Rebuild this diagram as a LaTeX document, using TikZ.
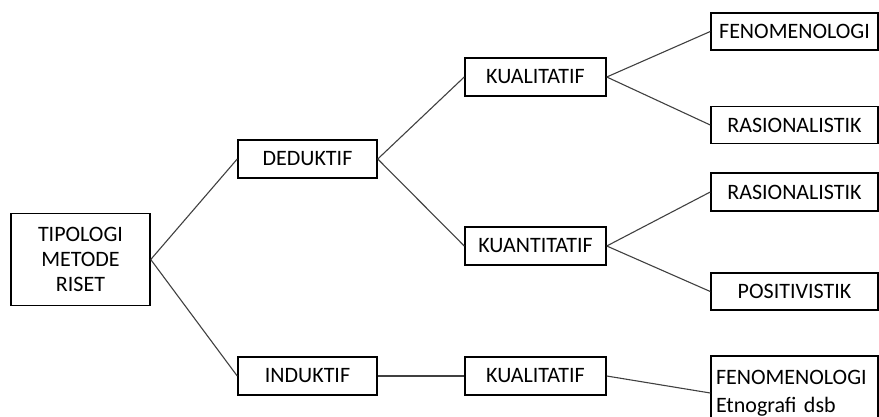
\documentclass[tikz,border=0pt]{standalone}
\usepackage{fontspec}
\setmainfont{Carlito}
\begin{document}
\begin{tikzpicture}[x=1pt,y=-1pt,
  box/.style={draw=black, line width=1.5pt, rectangle, inner sep=0pt,
    minimum height=38pt, font=\fontsize{22}{25}\selectfont, align=center},
  link/.style={draw=black!75, line width=1.1pt}]
  \useasboundingbox (0,0) rectangle (879,417);
  \clip (0,0) rectangle (879,417);

  % level 0
  \node[box, minimum width=139pt, minimum height=92pt] (tip) at (80.5,259.5)
    {TIPOLOGI\\METODE\\RISET};

  % level 1
  \node[box, minimum width=139pt] (ded) at (307.5,159) {DEDUKTIF};
  \node[box, minimum width=139pt] (ind) at (307.5,376) {INDUKTIF};

  % level 2
  \node[box, minimum width=141pt] (kual1) at (535.5,77) {KUALITATIF};
  \node[box, minimum width=141pt] (kuan) at (535.5,246) {KUANTITATIF};
  \node[box, minimum width=141pt] (kual2) at (535.5,376) {KUALITATIF};

  % level 3
  \node[box, minimum width=167pt, minimum height=37pt] (fen1) at (794.5,31.5) {FENOMENOLOGI};
  \node[box, minimum width=167pt, minimum height=37pt] (ras1) at (794.5,125) {RASIONALISTIK};
  \node[box, minimum width=167pt] (ras2) at (794.5,192) {RASIONALISTIK};
  \node[box, minimum width=167pt, minimum height=37pt] (pos) at (794.5,291.5) {POSITIVISTIK};
  \node[box, minimum width=167pt, minimum height=74pt, text width=157pt,
    align=left, inner xsep=5pt, font=\fontsize{22}{28}\selectfont]
    (fen2) at (794.5,393) {FENOMENOLOGI\\Etnografi dsb};

  % connectors
  \draw[link] (tip.east) -- (ded.west);
  \draw[link] (tip.east) -- (ind.west);
  \draw[link] (ded.east) -- (kual1.west);
  \draw[link] (ded.east) -- (kuan.west);
  \draw[link] (ind.east) -- (kual2.west);
  \draw[link] (kual1.east) -- (fen1.west);
  \draw[link] (kual1.east) -- (ras1.west);
  \draw[link] (kuan.east) -- (ras2.west);
  \draw[link] (kuan.east) -- (pos.west);
  \draw[link] (kual2.east) -- (fen2.west);
\end{tikzpicture}
\end{document}
